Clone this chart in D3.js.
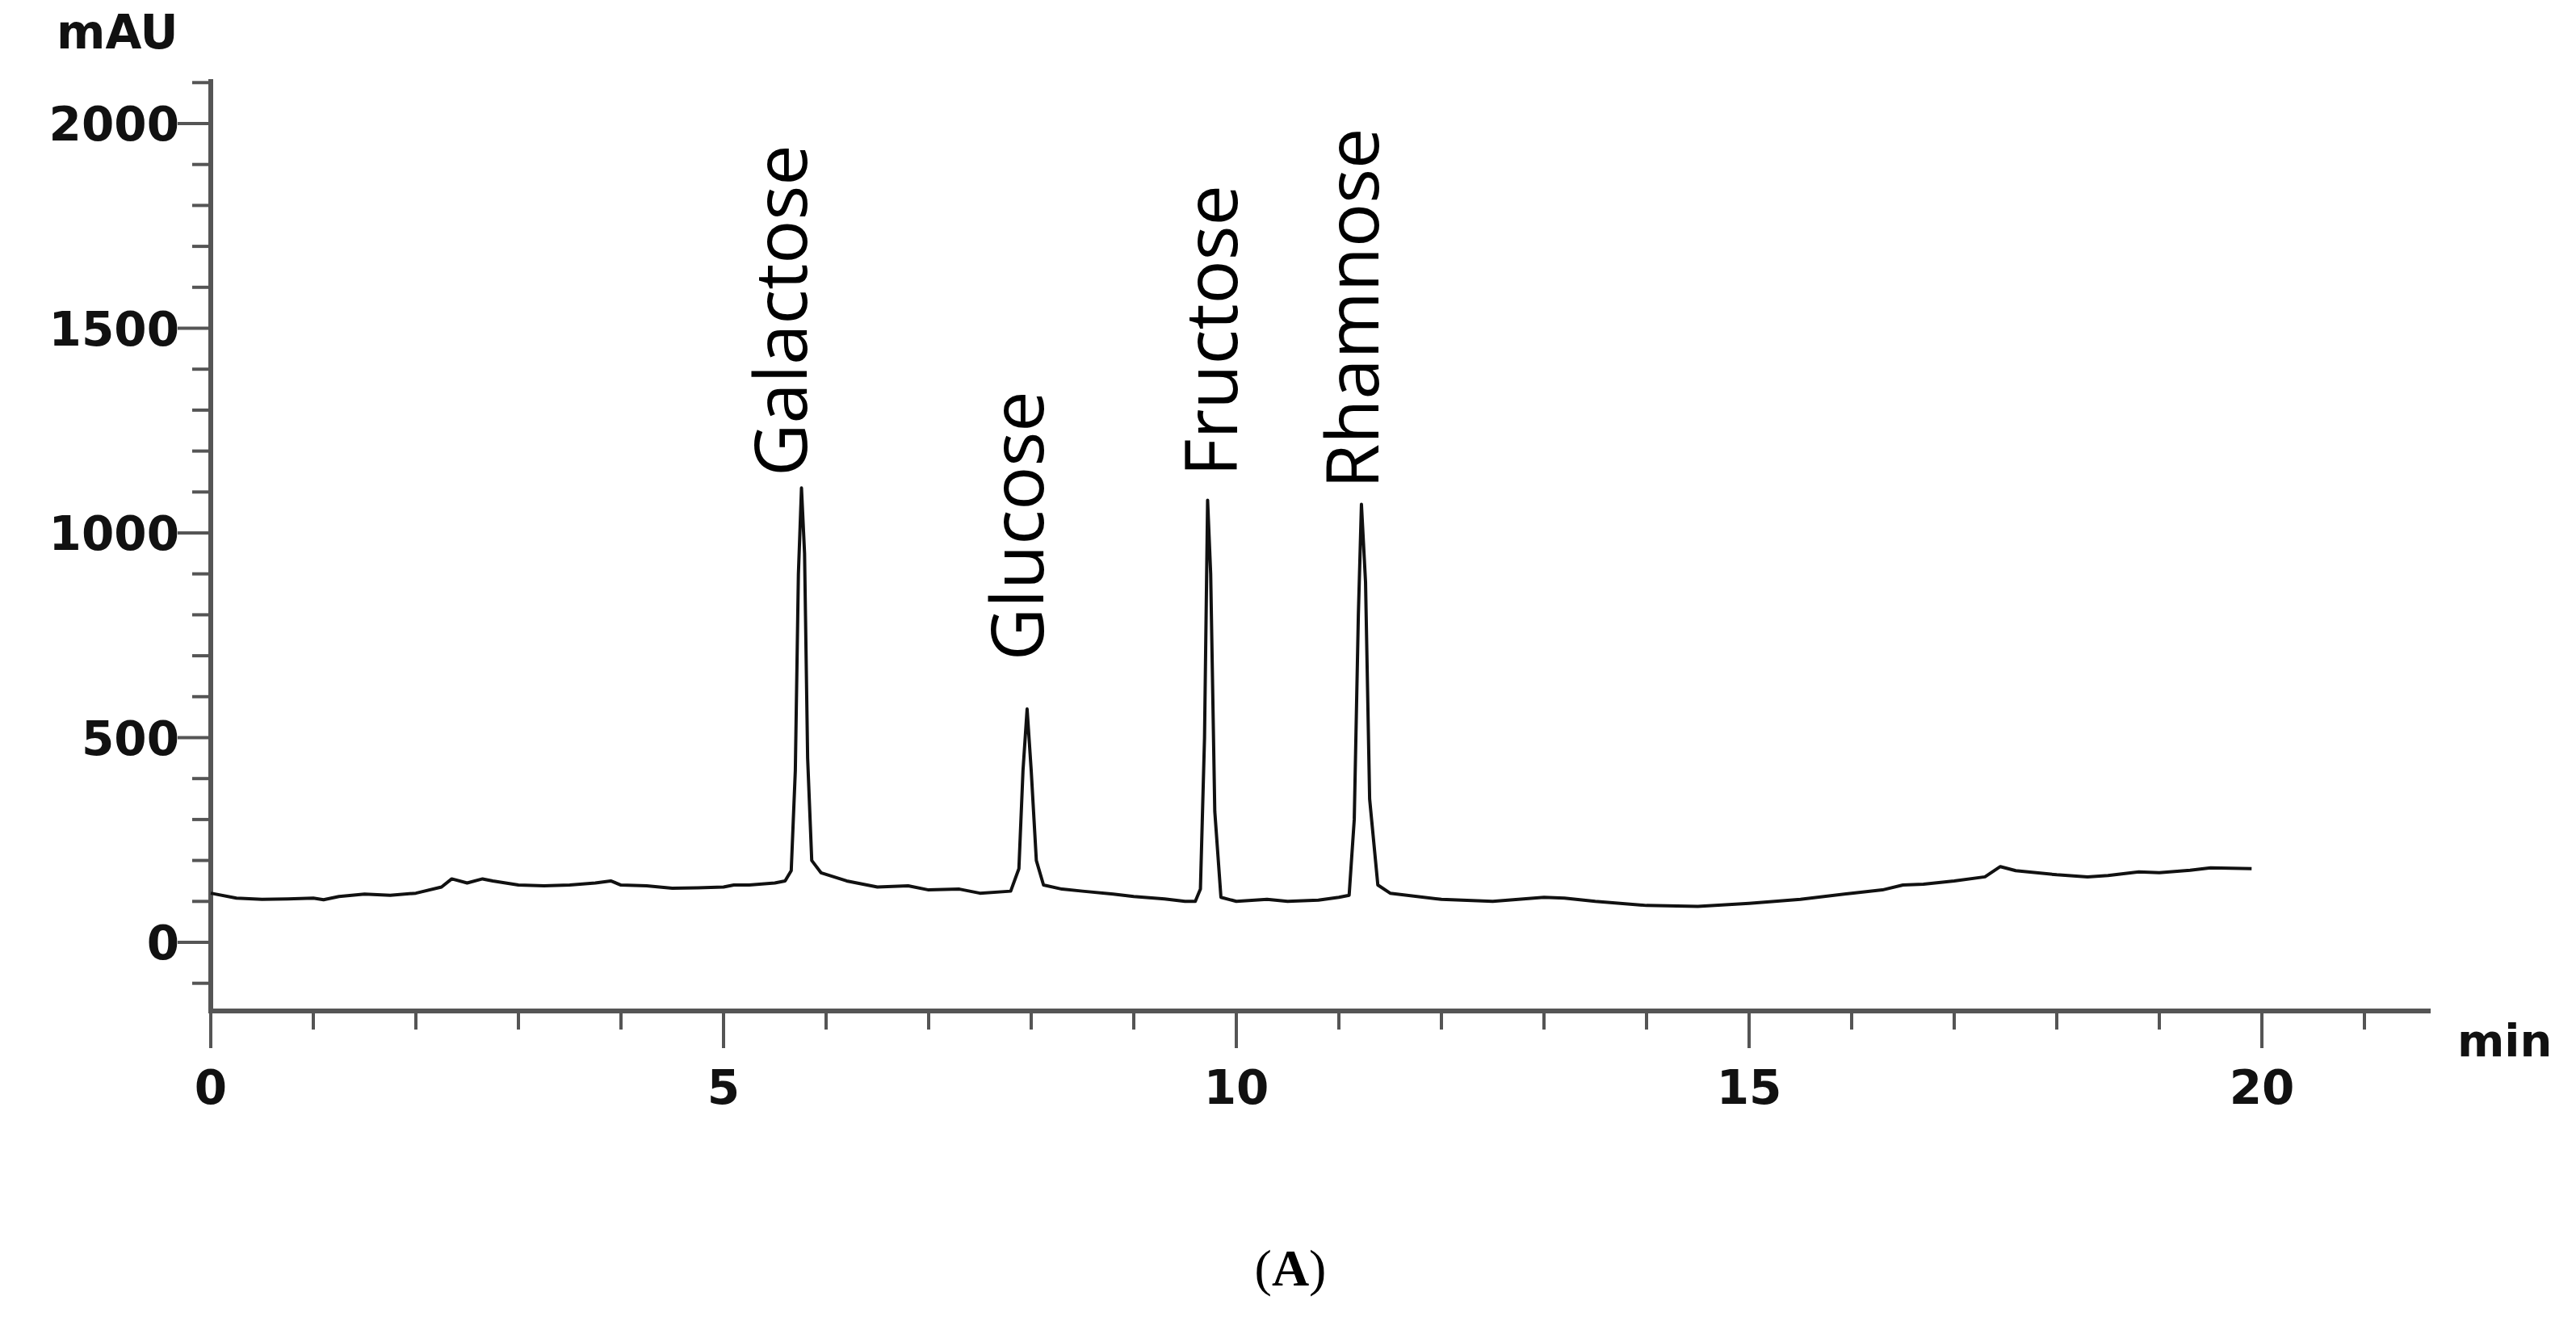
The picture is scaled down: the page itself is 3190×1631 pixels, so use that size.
<!DOCTYPE html>
<html><head><meta charset="utf-8">
<script src="https://cdnjs.cloudflare.com/ajax/libs/d3/7.8.5/d3.min.js"></script>
<style>body{margin:0;background:#fff}</style></head>
<body><svg id="c" width="3190" height="1631"></svg>
<script>
const times = [0,0.25,0.5,0.75,1,1.1,1.25,1.5,1.75,2,2.25,2.35,2.5,2.65,2.75,3,3.25,3.5,3.75,3.9,4,4.25,4.5,4.75,5,5.1,5.25,5.5,5.6,5.66,5.7,5.73,5.76,5.79,5.82,5.86,5.95,6.2,6.5,6.8,7,7.3,7.5,7.8,7.88,7.92,7.96,8.0,8.05,8.12,8.3,8.5,8.8,9,9.3,9.5,9.6,9.65,9.69,9.72,9.75,9.79,9.85,10,10.3,10.5,10.8,11,11.1,11.15,11.19,11.22,11.26,11.3,11.38,11.5,12,12.5,13,13.2,13.5,14,14.5,14.8,15,15.5,16,16.3,16.5,16.7,17,17.3,17.45,17.6,18,18.3,18.5,18.8,19,19.3,19.5,19.9];
const signal = [120,108,105,106,108,104,112,118,115,120,135,155,145,155,150,140,138,140,145,150,140,138,132,133,135,140,140,145,150,175,420,900,1110,950,450,200,170,150,135,138,128,130,120,125,180,420,570,420,200,140,130,125,118,112,106,100,100,130,500,1080,900,320,110,100,105,100,103,110,115,300,800,1070,880,350,140,120,105,100,110,108,100,90,88,92,95,105,120,128,140,142,150,160,185,175,165,160,163,172,170,176,182,180];
const yTicks = [0,500,1000,1500,2000];
const xTicks = [0,5,10,15,20];
const peakNames = ["Galactose","Glucose","Fructose","Rhamnose"];
const labelTimes = [5.56,7.87,9.76,11.14];
const labelBottom = [1138,688,1138,1108];

const svg = d3.select("#c");
const x = d3.scaleLinear().domain([0,20]).range([261,2801]);
const y = d3.scaleLinear().domain([0,2000]).range([1167,153]);
const axisCol = "#555";
const tickFont = "DejaVu Sans, Arial";

svg.append("line").attr("x1",261).attr("x2",261).attr("y1",98).attr("y2",1254).attr("stroke",axisCol).attr("stroke-width",6);
svg.selectAll(".ymin").data(d3.range(-100,2101,100)).join("line")
  .attr("x1",d=>d%500===0?220:238).attr("x2",261).attr("y1",d=>y(d)).attr("y2",d=>y(d))
  .attr("stroke",axisCol).attr("stroke-width",4);
svg.selectAll(".ylab").data(yTicks).join("text")
  .attr("x",222).attr("y",d=>y(d)+21).attr("text-anchor","end")
  .attr("font-family",tickFont).attr("font-weight","bold").attr("font-size",58)
  .attr("fill","#111").text(d=>d);
svg.append("text").attr("x",70).attr("y",60).attr("font-family",tickFont)
  .attr("font-weight","bold").attr("font-size",58).attr("fill","#111").text("mAU");

svg.append("line").attr("x1",258).attr("x2",3010).attr("y1",1252).attr("y2",1252).attr("stroke",axisCol).attr("stroke-width",6);
svg.selectAll(".xmin").data(d3.range(0,22,1)).join("line")
  .attr("x1",d=>x(d)).attr("x2",d=>x(d)).attr("y1",1252).attr("y2",d=>d%5===0?1298:1275)
  .attr("stroke",axisCol).attr("stroke-width",4);
svg.selectAll(".xlab").data(xTicks).join("text")
  .attr("x",d=>x(d)).attr("y",1367).attr("text-anchor","middle")
  .attr("font-family",tickFont).attr("font-weight","bold").attr("font-size",58)
  .attr("fill","#111").text(d=>d);
svg.append("text").attr("x",3043).attr("y",1308).attr("font-family",tickFont)
  .attr("font-weight","bold").attr("font-size",56).attr("fill","#111").text("min");

const line = d3.line().x((d,i)=>x(times[i])).y(d=>y(d));
svg.append("path").attr("d",line(signal)).attr("fill","none").attr("stroke","#111")
  .attr("stroke-width",4).attr("stroke-linejoin","round");

svg.selectAll(".pl").data(peakNames).join("text")
  .attr("transform",(d,i)=>`translate(${x(labelTimes[i])},${y(labelBottom[i])}) rotate(-90)`)
  .attr("dy","0.35em").attr("text-anchor","start").attr("font-family","Open Sans, sans-serif").attr("font-size",90)
  .attr("fill","#000").text(d=>d);

svg.append("text").attr("x",1598).attr("y",1592).attr("text-anchor","middle")
  .attr("font-family","Liberation Serif, serif").attr("font-size",64).attr("fill","#000")
  .html('(<tspan font-weight="bold">A</tspan>)');
</script></body></html>
